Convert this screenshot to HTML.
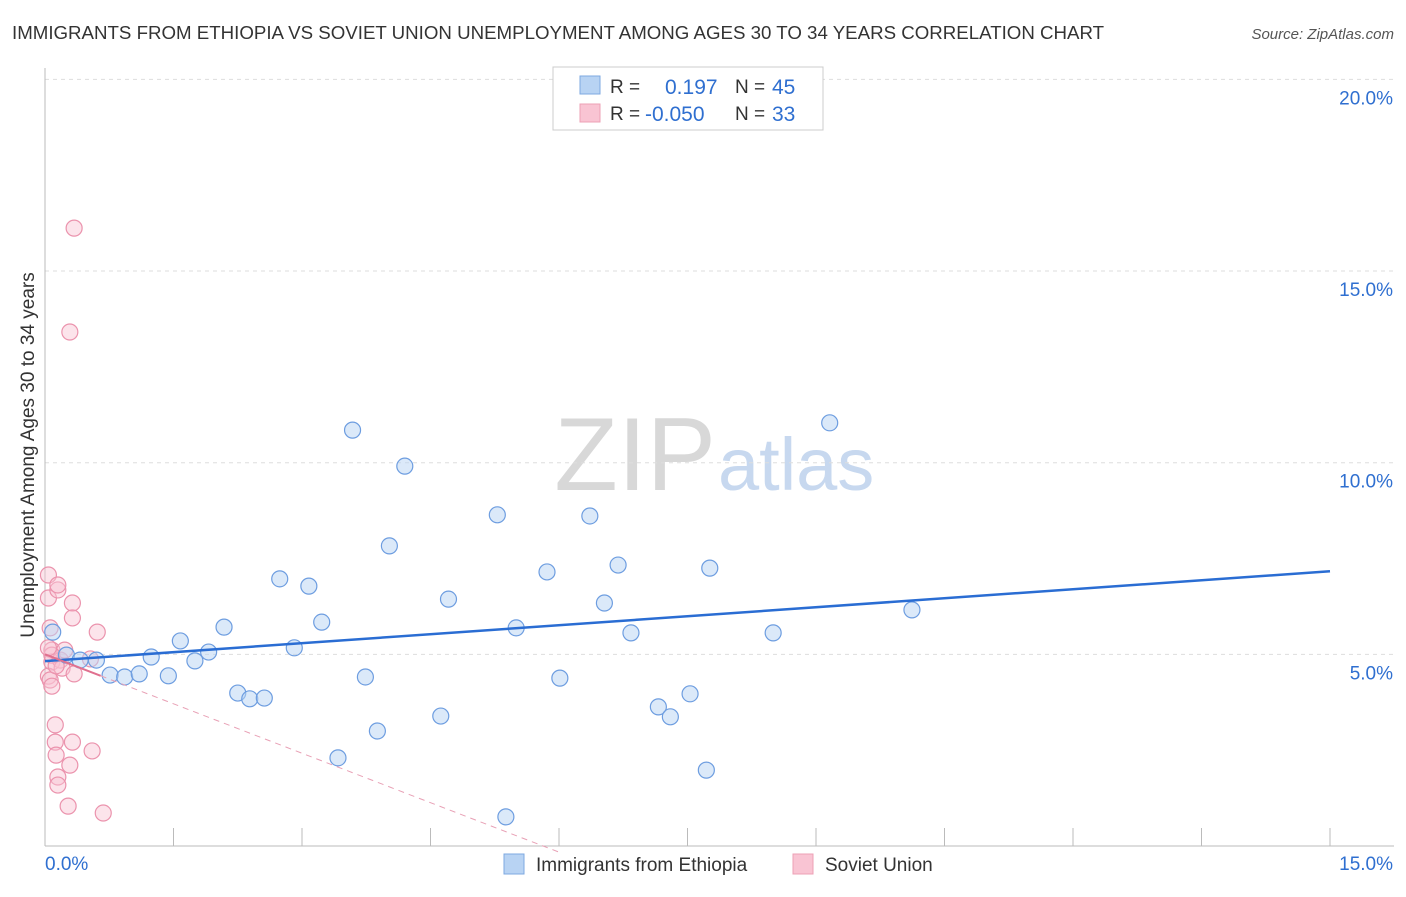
<!DOCTYPE html>
<html><head><meta charset="utf-8"><style>
body{margin:0;background:#fff;font-family:"Liberation Sans",sans-serif;}
svg text{font-family:"Liberation Sans",sans-serif;}
</style></head><body>
<svg id="chart" width="1406" height="892" xmlns="http://www.w3.org/2000/svg">
<text x="12" y="39" font-size="18.7" fill="#333">IMMIGRANTS FROM ETHIOPIA VS SOVIET UNION UNEMPLOYMENT AMONG AGES 30 TO 34 YEARS CORRELATION CHART</text>
<text x="1394" y="39" font-size="15" fill="#555" text-anchor="end" font-style="italic">Source: ZipAtlas.com</text>
<text x="716" y="490" font-size="104" fill="#d8d8d8" text-anchor="end" font-family="Liberation Serif">ZIP</text>
<text x="718" y="490" font-size="74" fill="#c7d8ef">atlas</text>
<g id="grid"></g><g id="axes"></g><g id="marks"></g>
<text transform="translate(34,455) rotate(-90)" font-size="19" fill="#333" text-anchor="middle">Unemployment Among Ages 30 to 34 years</text>
<g>
<rect x="553" y="67" width="270" height="63" fill="#fff" stroke="#ccc"/>
<rect x="580" y="76" width="20" height="18" fill="#b8d3f3" stroke="#7ea8e0"/>
<rect x="580" y="104" width="20" height="18" fill="#f9c4d3" stroke="#eda0b6"/>
<text x="610" y="93" font-size="19" fill="#333">R = </text><text x="665" y="94" font-size="21" fill="#2f6fd0">0.197</text>
<text x="735" y="93" font-size="19" fill="#333">N = </text><text x="772" y="94" font-size="21" fill="#2f6fd0">45</text>
<text x="610" y="120" font-size="19" fill="#333">R = </text><text x="645" y="121" font-size="21" fill="#2f6fd0">-0.050</text>
<text x="735" y="120" font-size="19" fill="#333">N = </text><text x="772" y="121" font-size="21" fill="#2f6fd0">33</text>
</g>
<g>
<rect x="504" y="854" width="20" height="20" fill="#b8d3f3" stroke="#7ea8e0"/>
<text x="536" y="871" font-size="19" fill="#333">Immigrants from Ethiopia</text>
<rect x="793" y="854" width="20" height="20" fill="#f9c4d3" stroke="#eda0b6"/>
<text x="825" y="871" font-size="19" fill="#333">Soviet Union</text>
</g>
</svg>
<script>
const yTicks=[5,10,15,20];
const yTickLabels=["5.0%","10.0%","15.0%","20.0%"];
const xTickCount=10;
const ethX=[0.09,0.25,0.41,0.6,0.76,0.93,1.1,1.24,1.44,1.58,1.75,1.91,2.09,2.25,2.39,2.56,2.74,2.91,3.08,3.23,3.42,3.59,3.74,3.88,4.02,4.2,4.62,4.71,5.28,5.38,5.5,5.86,6.01,6.36,6.53,6.69,6.84,7.16,7.3,7.53,7.72,7.76,8.5,9.16,10.12];
const ethY=[5.58,4.98,4.85,4.85,4.46,4.41,4.49,4.93,4.44,5.35,4.83,5.06,5.71,3.99,3.84,3.86,6.97,5.17,6.78,5.84,2.3,10.85,4.41,3.0,7.83,9.91,3.39,6.44,8.64,0.76,5.69,7.15,4.38,8.61,6.34,7.33,5.56,3.63,3.37,3.97,1.98,7.25,5.56,11.04,6.16];
const sovX=[0.04,0.04,0.06,0.08,0.08,0.04,0.06,0.08,0.12,0.12,0.13,0.15,0.15,0.15,0.15,0.18,0.2,0.23,0.27,0.29,0.29,0.32,0.32,0.32,0.34,0.34,0.53,0.55,0.61,0.68,0.08,0.04,0.13];
const sovY=[6.47,7.07,5.69,5.11,4.8,4.43,4.33,4.17,3.16,2.71,2.37,1.8,1.59,6.68,6.81,4.85,4.64,5.11,1.04,2.11,13.41,6.34,5.95,2.71,16.12,4.49,4.88,2.48,5.58,0.86,4.98,5.17,4.7];
const X0=45,X1=1330,Y0=846,PY=38.33;
const sx=v=>X0+(X1-X0)*v/15, sy=v=>Y0-v*PY;
const NS="http://www.w3.org/2000/svg";
function mk(tag,attrs,parent){const e=document.createElementNS(NS,tag);for(const k in attrs)e.setAttribute(k,attrs[k]);document.getElementById(parent).appendChild(e);return e;}
yTicks.forEach((t,i)=>{
 const l=mk('line',{x1:X0,x2:1394,y1:sy(t),y2:sy(t),stroke:'#ddd','stroke-dasharray':'4,4'},'grid');
 
 
 const tx=mk('text',{x:1393,y:sy(t)+25,'font-size':19,fill:'#2f6fd0','text-anchor':'end'},'grid');
 tx.textContent=yTickLabels[i];
 
 
});
const ax=mk('line',{x1:X0,x2:X0,y1:68,y2:846,stroke:'#bbb'},'axes');


const bx=mk('line',{x1:X0,x2:1394,y1:846,y2:846,stroke:'#bbb'},'axes');


for(let i=1;i<=xTickCount;i++){const x=sx(15*i/xTickCount);const t=mk('line',{x1:x,x2:x,y1:828,y2:846,stroke:'#bbb'},'axes');
 
 }
const xl0=mk('text',{x:45,y:870,'font-size':19,fill:'#2f6fd0'},'axes');xl0.textContent='0.0%';


const xl1=mk('text',{x:1393,y:870,'font-size':19,fill:'#2f6fd0','text-anchor':'end'},'axes');xl1.textContent='15.0%';


function fit(xs,ys){const n=xs.length;const mx=xs.reduce((a,b)=>a+b)/n,my=ys.reduce((a,b)=>a+b)/n;let sxy=0,sxx=0;for(let i=0;i<n;i++){sxy+=(xs[i]-mx)*(ys[i]-my);sxx+=(xs[i]-mx)**2;}const b=sxy/sxx;return [my-b*mx,b];}
sovX.forEach((v,i)=>{const c=mk('circle',{cx:sx(v),cy:sy(sovY[i]),r:8,fill:'rgba(249,196,211,0.45)',stroke:'#eb93ad','stroke-width':1.2},'marks');
 
 });
ethX.forEach((v,i)=>{const c=mk('circle',{cx:sx(v),cy:sy(ethY[i]),r:8,fill:'rgba(184,211,243,0.5)',stroke:'#6d9de0','stroke-width':1.2},'marks');
 
 });
const [ea,eb]=fit(ethX,ethY);
const el=mk('line',{x1:sx(0),y1:sy(ea),x2:sx(15),y2:sy(ea+eb*15),stroke:'#2a6dd3','stroke-width':2.5},'marks');


const pa=5.0,pb=-0.86;
const ps=mk('line',{x1:sx(0),y1:sy(pa),x2:sx(0.65),y2:sy(pa+pb*0.65),stroke:'#e0708f','stroke-width':2},'marks');


const pd=mk('line',{x1:sx(0.65),y1:sy(pa+pb*0.65),x2:sx(6),y2:sy(pa+pb*6),stroke:'#e8a0b5','stroke-width':1,'stroke-dasharray':'6,5'},'marks');


</script>
</body></html>
